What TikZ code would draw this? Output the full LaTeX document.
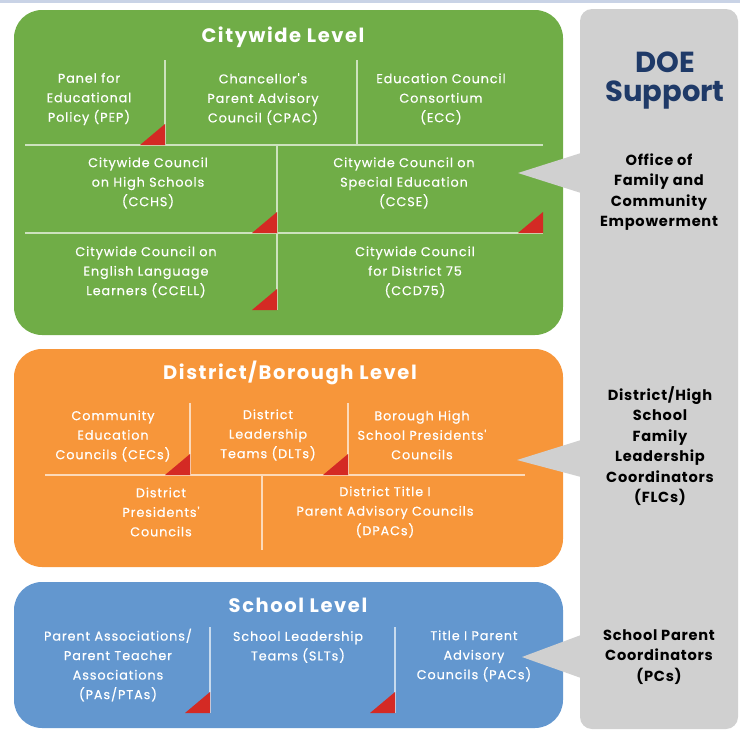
\documentclass[tikz,border=0pt]{standalone}
\usepackage{fontspec}
\setmainfont{Poppins}
\newfontfamily\councilfont[LetterSpace=7, FakeBold=0.5]{Poppins}
\newfontfamily\titlefont[LetterSpace=8]{Poppins}
\newfontfamily\supportfont[LetterSpace=5]{Poppins}
\usetikzlibrary{positioning}

\definecolor{citygreen}{HTML}{70AD47}
\definecolor{districtorange}{HTML}{F7963A}
\definecolor{schoolblue}{HTML}{6397CF}
\definecolor{supportgray}{HTML}{D0D0D0}
\definecolor{flagred}{HTML}{D42A24}
\definecolor{doenavy}{HTML}{1F3A68}
\definecolor{topline}{HTML}{C9D3E6}

\begin{document}
\begin{tikzpicture}[x=1pt,y=-1pt]
  \tikzstyle{level box}=[rounded corners=28pt]
  \tikzstyle{level title}=[text=white, font=\titlefont\fontsize{19.5}{22}\selectfont\bfseries]
  \tikzstyle{council}=[text=white, align=center, inner sep=0pt, font=\councilfont\fontsize{12.8}{19.5}\selectfont]
  \tikzstyle{support}=[text=black, align=center, inner sep=0pt, font=\supportfont\fontsize{14.6}{20.5}\selectfont\bfseries]
  \tikzstyle{divider}=[line width=1.3pt]
  \tikzstyle{callout}=[fill=supportgray]

  \useasboundingbox (0,0) rectangle (740,731);
  \fill[topline] (0,0) rectangle (740,3);

  % Draw the DOE support column
  \fill[supportgray, rounded corners=12pt] (580,9) rectangle (738,729);

  % Draw the level boxes
  \fill[citygreen, level box] (14,10) rectangle (563,335);
  \fill[districtorange, level box] (14,349) rectangle (563,567);
  \fill[schoolblue, level box] (14,582) rectangle (563,728);

  % Callouts from the support column
  \fill[callout] (518,173) -- (581,153) -- (581,193) -- cycle;
  \fill[callout] (517,460) -- (581,440) -- (581,477) -- cycle;
  \fill[callout] (522,657) -- (581,635) -- (581,678) -- cycle;

  % Divider lines
  \foreach \xa/\ya/\xb/\yb in {165/60/165/145, 357/60/357/145, 25/145/543/145,
    277/145/277/310, 25/233/543/233}
  \draw[divider, white!65!citygreen] (\xa,\ya) -- (\xb,\yb);

  \foreach \xa/\ya/\xb/\yb in {190/403/190/475, 348/403/348/475, 45/475/525/475,
    262/475/262/550}
  \draw[divider, white!65!districtorange] (\xa,\ya) -- (\xb,\yb);

  \foreach \xa/\ya/\xb/\yb in {210/627/210/713, 395/627/395/713}
  \draw[divider, white!65!schoolblue] (\xa,\ya) -- (\xb,\yb);

  % Red corner flags
  \foreach \x/\y in {165/145, 277/233, 277/310, 543/233, 190/475, 348/475,
    210/713, 395/713}
  \fill[flagred] (\x,\y) -- ++(-25,0) -- ++(25,-21) -- cycle;

  % Citywide level
  \node[level title] (city) at (283,37) {Citywide Level};
  \node[council] (pep) at (89,99) {Panel for\\Educational\\Policy (PEP)};
  \node[council] (cpac) at (263,99) {Chancellor's\\Parent Advisory\\Council (CPAC)};
  \node[council] (ecc) at (441,99) {Education Council\\Consortium\\(ECC)};
  \node[council] (cchs) at (148,183) {Citywide Council\\on High Schools\\(CCHS)};
  \node[council] (ccse) at (404,183) {Citywide Council on\\Special Education\\(CCSE)};
  \node[council] (ccell) at (146,272) {Citywide Council on\\English Language\\Learners (CCELL)};
  \node[council] (ccd) at (415,272) {Citywide Council\\for District 75\\(CCD75)};

  % District/Borough level
  \node[level title] (district) at (290,373) {District/Borough Level};
  \node[council] (cec) at (113,436) {Community\\Education\\Councils (CECs)};
  \node[council] (dlt) at (268,435) {District\\Leadership\\Teams (DLTs)};
  \node[council] (bhs) at (422,435) {Borough High\\School Presidents'\\Councils};
  \node[council] (dpc) at (161,512) {District\\Presidents'\\Councils};
  \node[council] (dpac) at (385,512) {District Title I\\Parent Advisory Councils\\(DPACs)};

  % School level
  \node[level title] (school) at (298,605) {School Level};
  \node[council] (pta) at (118,665) {Parent Associations/\\Parent Teacher\\Associations\\(PAs/PTAs)};
  \node[council] (slt) at (298,647) {School Leadership\\Teams (SLTs)};
  \node[council] (pac) at (474,656) {Title I Parent\\Advisory\\Councils (PACs)};

  % DOE support
  \node[text=doenavy, align=center, font=\fontsize{29}{29}\selectfont\bfseries] (doe) at (665,81) {DOE\\Support};
  \node[support] (ofce) at (659,192) {Office of\\Family and\\Community\\Empowerment};
  \node[support] (flc) at (660,446) {District/High\\School\\Family\\Leadership\\Coordinators\\(FLCs)};
  \node[support] (pc) at (659,657) {School Parent\\Coordinators\\(PCs)};
\end{tikzpicture}
\end{document}
